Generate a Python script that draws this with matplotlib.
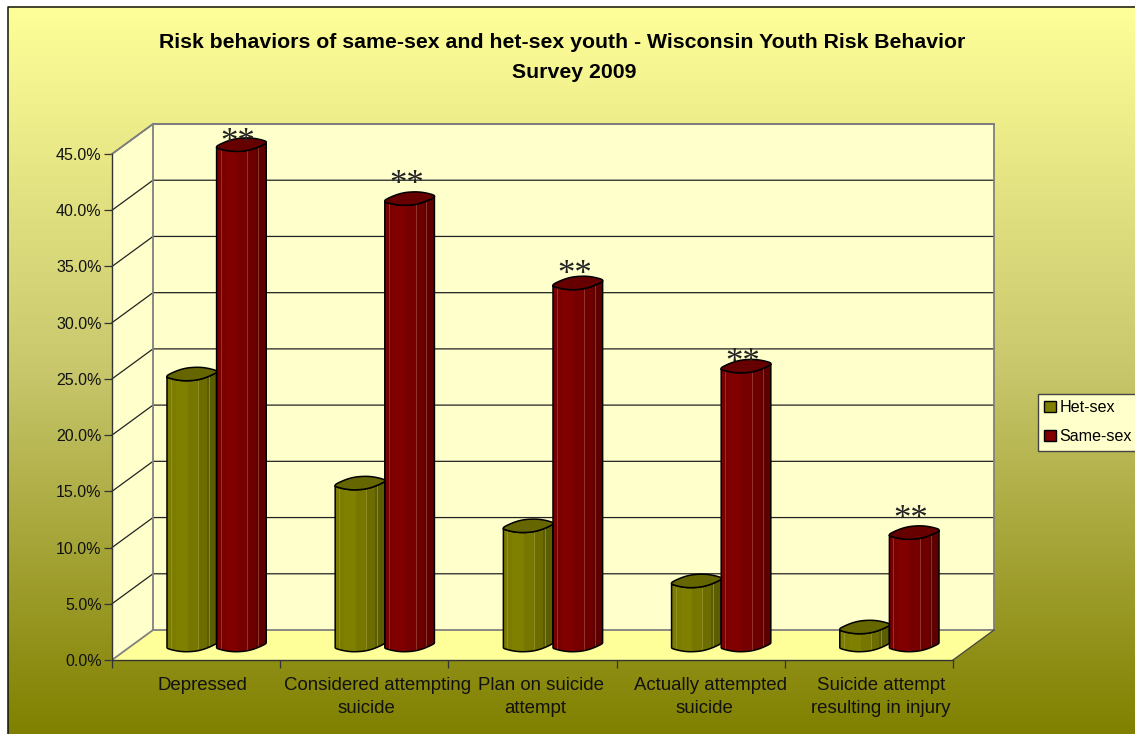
import matplotlib

matplotlib.use("Agg")
import matplotlib.pyplot as plt  # noqa: E402
import numpy as np  # noqa: E402
from matplotlib.colors import LinearSegmentedColormap  # noqa: E402
from matplotlib.patches import Patch, Polygon, Rectangle  # noqa: E402

plt.rcParams["font.family"] = ["Liberation Sans", "DejaVu Sans"]

title_lines = ["Risk behaviors of same-sex and het-sex youth - Wisconsin Youth Risk Behavior", "Survey 2009"]
series_names = ["Het-sex", "Same-sex"]
label_first = ["Depressed", "Considered attempting", "Plan on suicide", "Actually attempted", "Suicide attempt"]
label_second = ["", "suicide", "attempt", "suicide", "resulting in injury"]
het_sex = [24.1, 14.4, 10.6, 5.7, 1.6]
same_sex = [44.5, 39.7, 32.2, 24.8, 10.0]
star_levels = [45.2, 41.5, 33.5, 25.7, 11.7]
y_ticks = [0, 5, 10, 15, 20, 25, 30, 35, 40, 45]

W, H = 1135, 734
LEFT, RIGHT, TOP, BOTTOM = 112, 953, 154, 660
BAR_W = 0.295

fig = plt.figure(figsize=(W / 100, H / 100), dpi=100, facecolor="white")

# gradient background with the thin frame on the left and top
bg = fig.add_axes([0, 0, 1, 1], zorder=0)
bg.axis("off")
grad_cmap = LinearSegmentedColormap.from_list("bg", ["#ffff99", "#c8c76c", "#808000"])
bg.imshow(np.linspace(0, 1, 256)[:, None], cmap=grad_cmap, aspect="auto", extent=(8, W, H, 6.5), zorder=0)
bg.plot([8, 8, W], [H, 6.5, 6.5], color="#111111", lw=1.1, zorder=1)
bg.set_xlim(0, W)
bg.set_ylim(H, 0)

ax = fig.add_axes([LEFT / W, 1 - BOTTOM / H, (RIGHT - LEFT) / W, (BOTTOM - TOP) / H], zorder=1)
ax.patch.set_alpha(0)
ax.set_xlim(0, 5)
ax.set_ylim(0, 45)

# depth of the 3D box in data units
px_y = (BOTTOM - TOP) / 45
dx = 41 / ((RIGHT - LEFT) / 5)
dy = 30 / px_y

ax.add_patch(Rectangle((dx, dy), 5, 45, fc="#ffffcc", ec="none", clip_on=False, zorder=1))
ax.add_patch(Polygon([(0, 0), (dx, dy), (dx, 45 + dy), (0, 45)], fc="#ffffcc", ec="none", clip_on=False, zorder=1))
ax.add_patch(Polygon([(0, 0), (5, 0), (5 + dx, dy), (dx, dy)], fc="#ffff99", ec="none", clip_on=False, zorder=1))

for v in y_ticks[1:]:
    ax.plot([0, dx, 5 + dx], [v, v + dy, v + dy], color="#222222", lw=0.9, clip_on=False, zorder=2)
frame = "#808080"
ax.plot([dx, dx, 5 + dx, 5 + dx, dx], [45 + dy, dy, dy, 45 + dy, 45 + dy], color=frame, lw=1.3, clip_on=False, zorder=2)
ax.plot([0, dx], [0, dy], color=frame, lw=1.3, clip_on=False, zorder=2)
ax.plot([0, dx], [45, 45 + dy], color=frame, lw=1.3, clip_on=False, zorder=2)
ax.plot([5, 5 + dx], [0, dy], color="#444444", lw=0.9, clip_on=False, zorder=2)


def rim(center, level, t):
    # lumpy, slightly tilted ring like the old 3D cylinder rendering
    half_h = 5.6 / px_y
    tilt = 2.4 / px_y
    lump = 0.9 / px_y
    x = center + BAR_W / 2 * np.sign(np.cos(t)) * np.abs(np.cos(t)) ** 0.9
    y = level + half_h * np.sign(np.sin(t)) * np.abs(np.sin(t)) ** 0.85 + tilt * np.cos(t) - lump * np.sin(3 * t)
    return x, y


def draw_cylinder(center, value, bands, top_colour, light):
    base = dy / 2
    level = base + value
    t_low = np.linspace(np.pi, 2 * np.pi, 60)
    t_up = np.linspace(0, np.pi, 60)
    x_low, y_low = rim(center, base, t_low)
    x_top, y_top = rim(center, level, t_low[::-1])
    outline = np.column_stack([np.r_[x_low, x_top], np.r_[y_low, y_top]])
    body = Polygon(outline, fc="none", ec="black", lw=1.1, clip_on=False, zorder=5)
    ax.add_patch(body)
    left = center - BAR_W / 2
    edges = np.array([0, 0.18, 0.42, 0.62, 0.8, 1.0])
    for i, colour in enumerate(bands):
        strip = Rectangle((left + edges[i] * BAR_W, base - 1), (edges[i + 1] - edges[i]) * BAR_W, value + 2,
                          fc=colour, ec="none", zorder=4)
        ax.add_patch(strip)
        strip.set_clip_box(None)
        strip.set_clip_path(body.get_path(), body.get_transform())
    for pos in (0.08, 0.62, 0.84):
        line = ax.plot([left + pos * BAR_W] * 2, [base - 1, level + 1], color=light, lw=0.6, zorder=4)[0]
        line.set_clip_box(None)
        line.set_clip_path(body.get_path(), body.get_transform())
    x_a, y_a = rim(center, level, t_up)
    x_b, y_b = rim(center, level, t_low)
    ax.add_patch(Polygon(np.column_stack([np.r_[x_a, x_b], np.r_[y_a, y_b]]), fc=top_colour, ec="black", lw=1.1,
                         clip_on=False, zorder=6))


olive_bands = ["#7c7c00", "#808000", "#767600", "#6c6c00", "#5c5c00"]
red_bands = ["#7a0000", "#800000", "#760000", "#6c0000", "#5e0000"]
for i in range(5):
    c = i + 0.5 + dx / 2
    draw_cylinder(c - BAR_W / 2, het_sex[i], olive_bands, "#666600", "#94942a")
    draw_cylinder(c + BAR_W / 2, same_sex[i], red_bands, "#660000", "#983c30")
    # stars sit just above the bar tops
    ax.annotate("**", (c + BAR_W / 2 - 0.02, star_levels[i]), xytext=(0, 8.6), textcoords="offset points",
                family="Liberation Serif", fontsize=25, color="#222222", ha="center", va="center_baseline",
                annotation_clip=False, zorder=7)

for side in ("top", "right"):
    ax.spines[side].set_visible(False)
for side in ("left", "bottom"):
    ax.spines[side].set_color("#333333")
    ax.spines[side].set_linewidth(1.0)
    ax.spines[side].set_zorder(3)

ax.set_yticks(y_ticks)
ax.set_yticklabels([f"{v:.1f}%" for v in y_ticks], fontsize=11.5, color="#111111")
ax.set_xticks(range(6))
ax.set_xticklabels([])
ax.tick_params(axis="y", length=5.5, width=0.9, pad=2, color="#333333")
ax.tick_params(axis="x", length=5.5, width=0.9, color="#333333")

first_x = [0.535, 1.58, 2.55, 3.56, 4.57]
second_x = [0.535, 1.51, 2.515, 3.52, 4.57]
for i in range(5):
    ax.annotate(label_first[i], (first_x[i], 0), xytext=(0, -18.2), textcoords="offset points", ha="center",
                va="center", fontsize=13.4, color="#111111", annotation_clip=False)
    ax.annotate(label_second[i], (second_x[i], 0), xytext=(0, -35), textcoords="offset points", ha="center",
                va="center", fontsize=13.4, color="#111111", annotation_clip=False)

fig.text(562 / W, 1 - 43 / H, title_lines[0], ha="center", va="center", fontsize=15.3, fontweight="bold", color="black")
fig.text(574 / W, 1 - 73 / H, title_lines[1], ha="center", va="center", fontsize=15.3, fontweight="bold", color="black")

handles = [Patch(fc="#808000", ec="black", lw=1), Patch(fc="#800000", ec="black", lw=1)]
leg = fig.legend(handles, series_names, loc="upper left", bbox_to_anchor=(1038 / W, 1 - 394 / H), fontsize=11.6,
                 frameon=True, fancybox=False, facecolor="#ffffcc", edgecolor="#444444", framealpha=1,
                 handlelength=0.7, handleheight=0.7, handletextpad=0.22, labelspacing=0.85,
                 borderpad=0.4, borderaxespad=0)
leg.get_frame().set_linewidth(1)

fig.savefig("out.png", dpi=100)
